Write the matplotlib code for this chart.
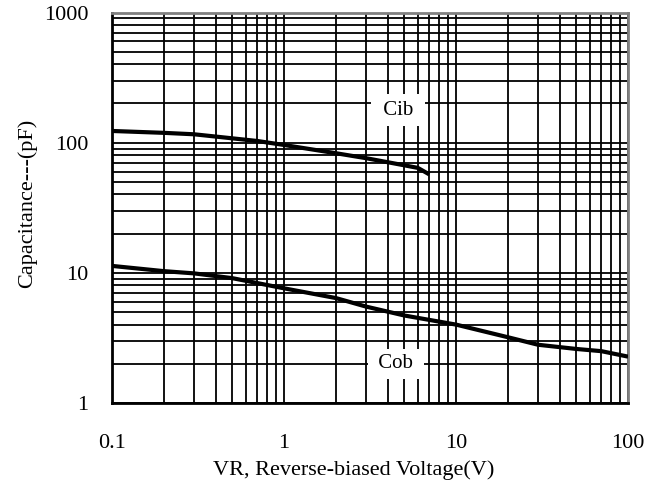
import matplotlib
matplotlib.use('Agg')
import matplotlib.pyplot as plt

plt.rcParams['font.family'] = ['Liberation Serif', 'DejaVu Serif']

# Cib curve (input capacitance)
cib_v = [0.1, 0.2, 0.3, 0.5, 0.7, 1, 2, 3, 5, 6, 7]
cib_c = [123, 119, 116, 108, 103, 96, 83, 76, 67, 64, 57]

# Cob curve (output capacitance)
cob_v = [0.1, 0.2, 0.3, 0.5, 1, 2, 3, 5, 10, 20, 30, 50, 70, 100]
cob_c = [11.3, 10.3, 9.9, 9.1, 7.6, 6.4, 5.5, 4.7, 4.0, 3.2, 2.8, 2.6, 2.5, 2.27]

x_ticks = [0.1, 1, 10, 100]
x_labels = ['0.1', '1', '10', '100']
y_ticks = [1, 10, 100, 1000]
y_labels = ['1', '10', '100', '1000']

fig = plt.figure(figsize=(6.59, 4.82), dpi=100)
ax = fig.add_axes([0.170, 0.164, 0.783, 0.810])

ax.set_xscale('log')
ax.set_yscale('log')
ax.set_xlim(0.1, 100)
ax.set_ylim(1, 1000)

ax.grid(True, which='both', color='black', linewidth=1.3)
ax.set_axisbelow(True)

ax.plot(cib_v, cib_c, color='black', linewidth=3, solid_capstyle='butt', zorder=3)
ax.plot(cob_v, cob_c, color='black', linewidth=3, solid_capstyle='butt', zorder=3)

ax.text(4.6, 178, ' Cib ', fontsize=15, ha='center', va='center', zorder=4,
        bbox=dict(facecolor='white', edgecolor='none', pad=5))
ax.text(4.46, 2.0, ' Cob ', fontsize=15, ha='center', va='center', zorder=4,
        bbox=dict(facecolor='white', edgecolor='none', pad=4))

ax.set_xticks(x_ticks)
ax.set_xticklabels(x_labels)
ax.set_yticks(y_ticks)
ax.set_yticklabels(y_labels)
ax.minorticks_on()
ax.tick_params(which='both', length=0, labelsize=16)
ax.tick_params(axis='x', pad=22)
ax.tick_params(axis='y', pad=17)
ax.tick_params(which='minor', labelbottom=False, labelleft=False)

for s in ['left', 'bottom']:
    ax.spines[s].set_color('black')
    ax.spines[s].set_linewidth(2)
for s in ['top', 'right']:
    ax.spines[s].set_color('#808080')
    ax.spines[s].set_linewidth(2)

ax.set_xlabel('VR, Reverse-biased Voltage(V)', fontsize=16)
ax.set_ylabel('Capacitance---(pF)', fontsize=16)
ax.xaxis.set_label_coords(0.469, -0.146)
ax.yaxis.set_label_coords(-0.145, 0.512)

fig.savefig('out.png', dpi=100)
